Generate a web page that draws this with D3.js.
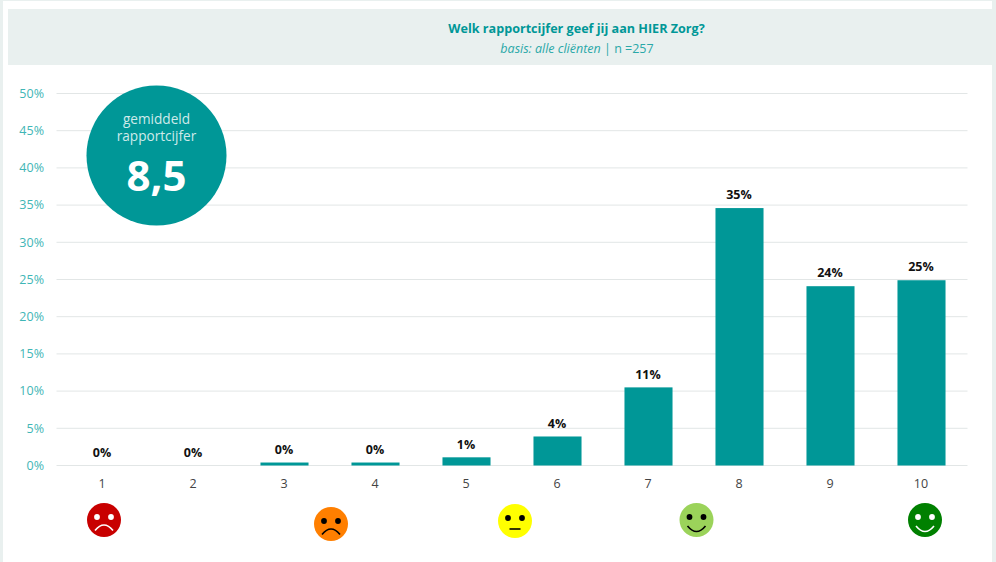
<!doctype html>
<html>
  <head>
    <meta charset="utf-8">
    <title>Rapportcijfer</title>
    <style>
      body { margin: 0; background: #fff; }
      svg { display: block; }
      svg text { font-family: "Open Sans", sans-serif; }
      .grid line { stroke: #e2e6e6; stroke-width: 1px; }
      .y-axis text { fill: #3fb6b6; font-size: 12.5px; }
      .x-axis text { fill: #444; font-size: 12.5px; }
      .label { font-size: 12.5px; font-weight: 700; fill: #111; text-anchor: middle; }
    </style>
    <script src="https://cdn.jsdelivr.net/npm/d3@7"></script>
  </head>
  <body>
    <script>
      const categories = ["1", "2", "3", "4", "5", "6", "7", "8", "9", "10"],
        values = [0, 0, 0.4, 0.4, 1.1, 3.9, 10.5, 34.6, 24.1, 24.9],
        labels = ["0%", "0%", "0%", "0%", "1%", "4%", "11%", "35%", "24%", "25%"],
        yTicks = [0, 5, 10, 15, 20, 25, 30, 35, 40, 45, 50];

      const title = "Welk rapportcijfer geef jij aan HIER Zorg?",
        average = "8,5";

      const faces = ["sad", "sad", "flat", "smile", "smile"],
        faceColors = ["#c80000", "#ff7f00", "#ffff00", "#9bd35a", "#008000"],
        faceInk = ["#fff", "#000", "#000", "#000", "#fff"],
        faceX = [104, 331, 515, 696.5, 925],
        faceY = [520, 524, 521, 520, 520];

      const teal = "#009797", pale = "#e9f0ef";

      const svg = d3.select("body").append("svg")
        .attr("width", 996)
        .attr("height", 562);

      // page frame and header band
      svg.append("rect").attr("width", 996).attr("height", 562).attr("fill", pale);
      svg.append("rect").attr("x", 3).attr("y", 1).attr("width", 989).attr("height", 561).attr("fill", "#fff");
      svg.append("rect").attr("x", 8).attr("y", 9).attr("width", 988).attr("height", 56).attr("fill", pale);

      const x = d3.scaleBand()
        .domain(categories)
        .range([57, 967])
        .paddingInner(0.472)
        .paddingOuter(0.236);

      const y = d3.scaleLinear()
        .domain([0, 50])
        .range([465.5, 93.5]);

      // gridlines
      svg.append("g").attr("class", "grid")
        .selectAll("line")
        .data(yTicks)
        .enter().append("line")
        .attr("x1", 56.5)
        .attr("x2", 967.5)
        .attr("y1", d => y(d))
        .attr("y2", d => y(d));

      // axes
      const yAxis = svg.append("g").attr("class", "y-axis")
        .attr("transform", "translate(44,0)")
        .call(d3.axisLeft(y).tickValues(yTicks).tickSize(0).tickPadding(0).tickFormat(d => d + "%"));
      yAxis.select(".domain").remove();
      yAxis.selectAll("text").attr("dy", "0.3em");

      const xAxis = svg.append("g").attr("class", "x-axis")
        .attr("transform", "translate(-0.5,479)")
        .call(d3.axisBottom(x).tickSize(0).tickPadding(0));
      xAxis.select(".domain").remove();
      xAxis.selectAll("text").attr("dy", "0.75em");

      // bars and value labels
      svg.selectAll(".bar")
        .data(values)
        .enter().append("rect")
        .attr("class", "bar")
        .attr("fill", teal)
        .attr("x", (d, i) => x(categories[i]))
        .attr("width", x.bandwidth())
        .attr("y", d => y(d))
        .attr("height", d => y(0) - y(d));

      svg.selectAll(".label")
        .data(values)
        .enter().append("text")
        .attr("class", "label")
        .attr("x", (d, i) => x(categories[i]) + x.bandwidth() / 2 - 0.5)
        .attr("y", d => y(d) - 13)
        .attr("dy", "0.34em")
        .text((d, i) => labels[i]);

      // header text
      svg.append("text")
        .attr("x", 576.5).attr("y", 33)
        .attr("text-anchor", "middle")
        .attr("fill", teal)
        .style("font-size", "12.6px")
        .style("font-weight", 700)
        .text(title);

      const sub = svg.append("text")
        .attr("x", 577).attr("y", 53)
        .attr("text-anchor", "middle")
        .attr("fill", "#2aa8a8")
        .style("font-size", "12.5px");
      sub.append("tspan").style("font-style", "italic").text("basis: alle cliënten");
      sub.append("tspan").text(" | n =257");

      // average badge
      const badge = svg.append("g").attr("transform", "translate(156.5,155.5)");
      badge.append("circle").attr("r", 70).attr("fill", teal);
      const caption = badge.append("text")
        .attr("text-anchor", "middle").attr("fill", "#cfeaea")
        .style("font-size", "13.6px");
      caption.append("tspan").attr("x", 0).attr("y", -31.5).text("gemiddeld");
      caption.append("tspan").attr("x", 0).attr("y", -15).text("rapportcijfer");
      badge.append("text")
        .attr("y", 35).attr("text-anchor", "middle").attr("fill", "#fff")
        .style("font-size", "42px").style("font-weight", 700).text(average);

      // smileys
      const mouths = {
        sad: "M-9,10.5Q0,-0.5 9,10.5",
        flat: "M-5.5,8H5.5",
        smile: "M-9,6Q0,17 9,6"
      };
      const face = svg.selectAll(".face")
        .data(faces)
        .enter().append("g")
        .attr("class", "face")
        .attr("transform", (d, i) => "translate(" + faceX[i] + "," + faceY[i] + ")");
      face.append("circle").attr("r", 17).attr("fill", (d, i) => faceColors[i]);
      face.append("circle").attr("cx", -7).attr("cy", -3).attr("r", 2.9).attr("fill", (d, i) => faceInk[i]);
      face.append("circle").attr("cx", 7).attr("cy", -3).attr("r", 2.9).attr("fill", (d, i) => faceInk[i]);
      face.append("path")
        .attr("d", d => mouths[d])
        .attr("fill", "none")
        .attr("stroke", (d, i) => faceInk[i])
        .attr("stroke-width", 1.6);
    </script>
  </body>
</html>
